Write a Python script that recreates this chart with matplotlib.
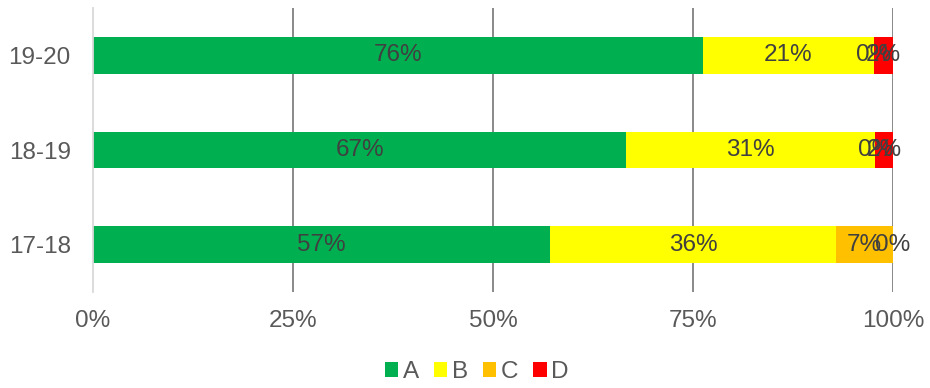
import numpy as np
import matplotlib.pyplot as plt
from matplotlib.ticker import FuncFormatter

plt.rcParams['font.family'] = ['Liberation Sans', 'DejaVu Sans']

seasons = ['17-18', '18-19', '19-20']
# share of each grade per season, in percent
grade_a = [57.14, 66.67, 76.19]
grade_b = [35.71, 31.11, 21.43]
grade_c = [7.14, 0.0, 0.0]
grade_d = [0.0, 2.22, 2.38]

series = [('A', grade_a, '#00B050'),
          ('B', grade_b, '#FFFF00'),
          ('C', grade_c, '#FFC000'),
          ('D', grade_d, '#FF0000')]

fs = 17.5

fig = plt.figure(figsize=(9.3, 3.88), dpi=100)
ax = fig.add_axes([93/930, 1-292/388, 800/930, 284/388])

y = np.arange(len(seasons))
left = np.zeros(len(seasons))
for name, vals, col in series:
    vals = np.array(vals)
    ax.barh(y, vals, left=left, height=0.39, color=col, label=name, zorder=2)
    for yi, (l, v) in enumerate(zip(left, vals)):
        ax.text(l + v/2, yi, f'{v:.0f}%', ha='center', va='center',
                fontsize=fs, color='#404040', zorder=3)
    left = left + vals

ax.set_xlim(0, 100)
ax.set_ylim(-0.5, 2.5)
ax.set_xticks([0, 25, 50, 75, 100])
ax.xaxis.set_major_formatter(FuncFormatter(lambda v, p: f'{v:.0f}%'))
ax.set_yticks(y)
ax.set_yticklabels(seasons)
ax.tick_params(length=0, labelsize=fs, labelcolor='#595959')
ax.tick_params(axis='x', pad=13)
ax.tick_params(axis='y', pad=16)
ax.grid(axis='x', color='#808080', linewidth=1.3, zorder=0)
ax.xaxis.get_gridlines()[0].set_visible(False)
for s in ['top', 'right', 'bottom']:
    ax.spines[s].set_visible(False)
ax.spines['left'].set_color('#D9D9D9')
ax.spines['left'].set_linewidth(1.3)

ax.legend(loc='center', bbox_to_anchor=(477/930, 1-372/388),
          bbox_transform=fig.transFigure, ncol=4, frameon=False,
          fontsize=fs, labelcolor='#595959', handlelength=0.55,
          handleheight=0.55, handletextpad=0.2, columnspacing=0.6)

fig.savefig('out.png', dpi=100)
